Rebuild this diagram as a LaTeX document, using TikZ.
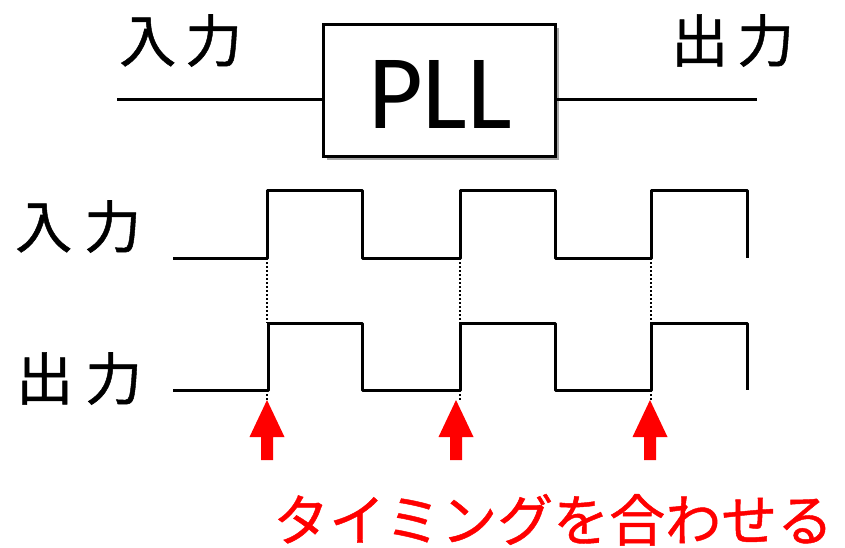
\documentclass[tikz,border=0pt]{standalone}
\usepackage{fontspec}
\newfontfamily\jpfont[FakeBold=0.8]{Noto Sans CJK JP}
\newfontfamily\calfont{Carlito}
\usetikzlibrary{shadows}
\begin{document}
\begin{tikzpicture}[x=1pt,y=-1pt,
  wave/.style={line width=3pt, line join=round},
  wire/.style={line width=3pt},
  guide/.style={dotted, line width=2pt},
  jplabel/.style={anchor=base west, inner sep=0pt, font=\jpfont\fontsize{57}{60}\selectfont},
  redtext/.style={anchor=base west, inner sep=0pt, text=red, font=\jpfont\fontsize{56}{60}\selectfont},
  upArrow/.style={fill=red}]
\useasboundingbox (0,0) rectangle (845,547);

% PLL block
\node[draw, line width=3pt, fill=white,
      drop shadow={shadow xshift=3pt, shadow yshift=-3pt, fill=black, opacity=0.35},
      minimum width=232pt, minimum height=132pt, inner sep=0pt] (pll) at (439.5,90.5) {};
\node[anchor=base, inner sep=0pt, font=\calfont\fontsize{106}{110}\selectfont] (plltext) at (440,128) {PLL};

\coordinate (inL) at (117,99);
\coordinate (outR) at (757,99);
\draw[wire] (inL) -- (inL -| pll.west);
\draw[wire] (outR -| pll.east) -- (outR);

\node[jplabel] (inTop) at (119,62) {入\kern9pt力};
\node[jplabel] (outTop) at (671,62) {出\kern9pt力};

% waveform labels
\node[jplabel] (inWave) at (15,248) {入\kern12pt力};
\node[jplabel] (outWave) at (16,400) {出\kern12pt力};

% waveforms
\draw[wave] (173,258) -- (267,258) -- (267,190) -- (362,190) -- (362,258) -- (460,258) -- (460,190)
  -- (555,190) -- (555,258) -- (651,258) -- (651,190) -- (747,190) -- (747,258);
\draw[wave] (173,390) -- (268,390) -- (268,323) -- (362,323) -- (362,390) -- (460,390) -- (460,323)
  -- (555,323) -- (555,390) -- (651,390) -- (651,323) -- (747,323) -- (747,390);

% dotted guides
\foreach \x in {267,460,651}{
  \draw[guide] (\x,258) -- (\x,323);
  \draw[guide] (\x,390) -- (\x,400);
}

% red arrows
\foreach \c in {267,456,650}{
  \fill[upArrow] (\c-17.5,437) -- (\c,400) -- (\c+17.5,437) -- (\c+6,437) -- (\c+6,460)
    -- (\c-6,460) -- (\c-6,437) -- cycle;
}

\node[redtext] (timing) at (273,541) {タイミングを合わせる};
\end{tikzpicture}
\end{document}
